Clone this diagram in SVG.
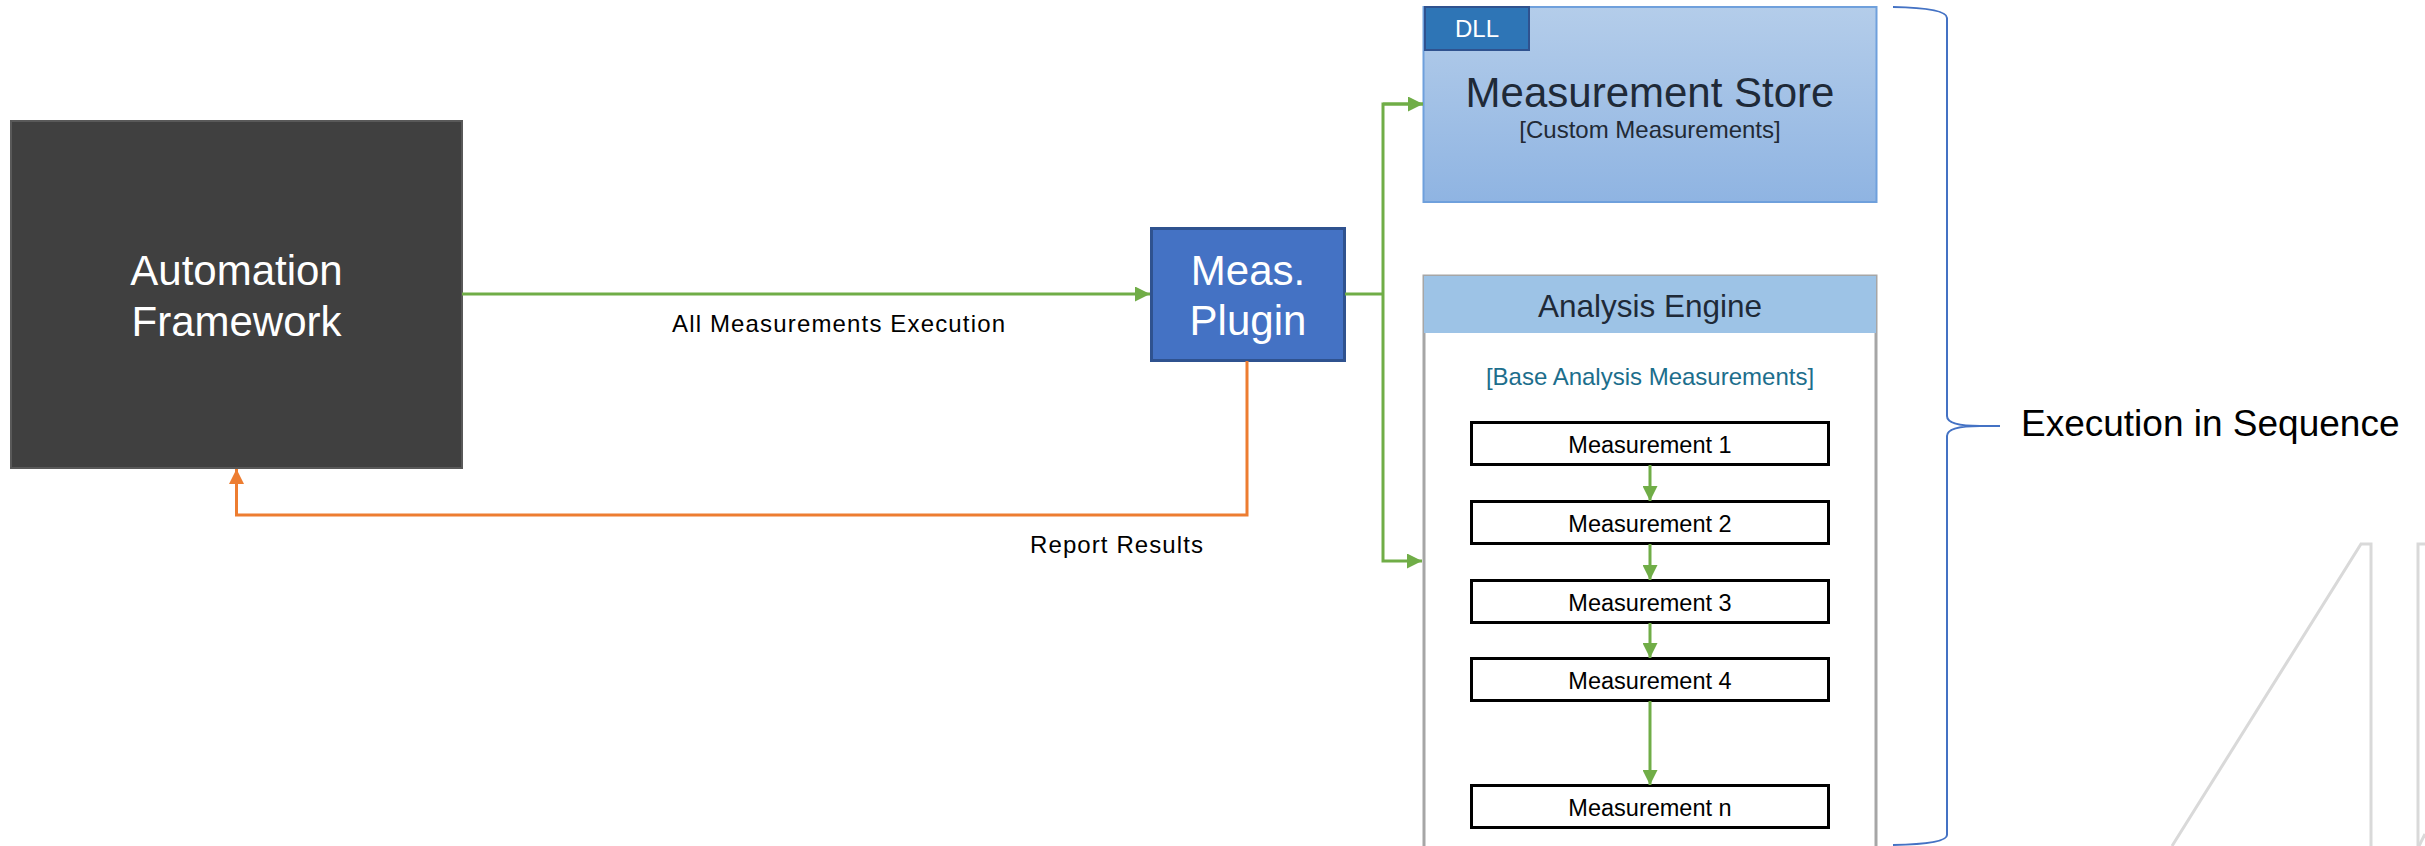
<svg xmlns="http://www.w3.org/2000/svg" width="2425" height="846" viewBox="0 0 2425 846">
<style>
text{font-family:"Liberation Sans",Arial,sans-serif}
.big{font-size:42px;fill:#ffffff;text-anchor:middle}
.m{font-size:23.5px;fill:#000;text-anchor:middle}
.mbox{fill:#fff;stroke:#000;stroke-width:3}
.lbl{font-size:24px;fill:#000;text-anchor:middle}
.g{fill:none;stroke:#70AD47;stroke-width:3}
.o{fill:none;stroke:#ED7D31;stroke-width:3}
.deco{fill:none;stroke:#D9D9D9;stroke-width:3}
</style>
<defs>
<linearGradient id="msg" x1="0" y1="0" x2="0" y2="1">
<stop offset="0" stop-color="#B4CDEA"/>
<stop offset="1" stop-color="#8FB4E2"/>
</linearGradient>
<marker id="ag" markerUnits="userSpaceOnUse" markerWidth="15" markerHeight="15" refX="15" refY="7.5" orient="auto">
<path d="M0,0 L15,7.5 L0,15 z" fill="#70AD47"/>
</marker>
<marker id="ao" markerUnits="userSpaceOnUse" markerWidth="15" markerHeight="15" refX="15" refY="7.5" orient="auto">
<path d="M0,0 L15,7.5 L0,15 z" fill="#ED7D31"/>
</marker>
</defs>
<rect width="2425" height="846" fill="#ffffff"/>

<g id="decoration">
<polyline class="deco" points="2172,846 2361,544 2371,544 2371,846"/>
<polyline class="deco" points="2425,544 2418,544 2418,846"/>
<line class="deco" x1="2419" y1="846" x2="2425" y2="834"/>
</g>

<g id="automation-framework">
<rect x="11" y="121" width="451" height="347" fill="#404040" stroke="#595959" stroke-width="2"/>
<text class="big" x="236.5" y="285">Automation</text>
<text class="big" x="236.5" y="336">Framework</text>
</g>

<g id="meas-plugin">
<rect x="1151.5" y="228.5" width="193" height="132" fill="#4472C4" stroke="#2F528F" stroke-width="3"/>
<text class="big" x="1248" y="285">Meas.</text>
<text class="big" x="1248" y="335">Plugin</text>
</g>

<g id="measurement-store">
<rect x="1423.5" y="7" width="453" height="195" fill="url(#msg)" stroke="#6FA0DC" stroke-width="2"/>
<rect x="1425" y="7" width="104" height="43" fill="#2E75B6" stroke="#2F528F" stroke-width="2"/>
<text x="1477" y="37" font-size="24" fill="#ffffff" text-anchor="middle">DLL</text>
<text x="1650" y="107" font-size="42" fill="#1F2A38" text-anchor="middle">Measurement Store</text>
<text x="1650" y="138" font-size="24" fill="#222A35" text-anchor="middle">[Custom Measurements]</text>
</g>

<g id="analysis-engine">
<rect x="1424" y="276" width="452" height="600" fill="#ffffff" stroke="#A6A6A6" stroke-width="3"/>
<rect x="1424" y="276" width="452" height="57" fill="#9DC3E6"/>
<text x="1650" y="317" font-size="31.5" fill="#1F2A38" text-anchor="middle">Analysis Engine</text>
<text x="1650" y="385" font-size="24" fill="#1C6E8C" text-anchor="middle">[Base Analysis Measurements]</text>
</g>

<g id="measurement-1">
<rect class="mbox" x="1471.5" y="422.5" width="357" height="42"/>
<text class="m" x="1650" y="452.5">Measurement 1</text>
</g>
<g id="measurement-2">
<rect class="mbox" x="1471.5" y="501.5" width="357" height="42"/>
<text class="m" x="1650" y="531.5">Measurement 2</text>
</g>
<g id="measurement-3">
<rect class="mbox" x="1471.5" y="580.5" width="357" height="42"/>
<text class="m" x="1650" y="610.5">Measurement 3</text>
</g>
<g id="measurement-4">
<rect class="mbox" x="1471.5" y="658.5" width="357" height="42"/>
<text class="m" x="1650" y="688.5">Measurement 4</text>
</g>
<g id="measurement-n">
<rect class="mbox" x="1471.5" y="785.5" width="357" height="42"/>
<text class="m" x="1650" y="815.5">Measurement n</text>
</g>

<g id="connectors">
<line class="g" x1="462" y1="294" x2="1150" y2="294" marker-end="url(#ag)"/>
<polyline class="g" points="1345,294 1383,294"/>
<polyline class="g" points="1423,104 1383,104 1383,561 1422,561" marker-end="url(#ag)"/>
<line class="g" x1="1383" y1="104" x2="1423" y2="104" marker-end="url(#ag)"/>
<line class="g" x1="1650" y1="465" x2="1650" y2="501" marker-end="url(#ag)"/>
<line class="g" x1="1650" y1="544" x2="1650" y2="580" marker-end="url(#ag)"/>
<line class="g" x1="1650" y1="623" x2="1650" y2="658" marker-end="url(#ag)"/>
<line class="g" x1="1650" y1="701" x2="1650" y2="785" marker-end="url(#ag)"/>
<polyline class="o" points="1247,361 1247,515 236.5,515 236.5,469" marker-end="url(#ao)"/>
<text class="lbl" x="838.5" y="332" textLength="333" lengthAdjust="spacing">All Measurements Execution</text>
<text class="lbl" x="1116.5" y="553" textLength="173" lengthAdjust="spacing">Report Results</text>
</g>

<g id="sequence-brace">
<path d="M1893,7 Q1947,8 1947,18 V416 Q1947,426 1980,426 H2000 M1980,426 Q1947,426 1947,436 V835 Q1947,844 1893,845" fill="none" stroke="#4472C4" stroke-width="2"/>
<text x="2021" y="436" font-size="37" fill="#000">Execution in Sequence</text>
</g>
</svg>
